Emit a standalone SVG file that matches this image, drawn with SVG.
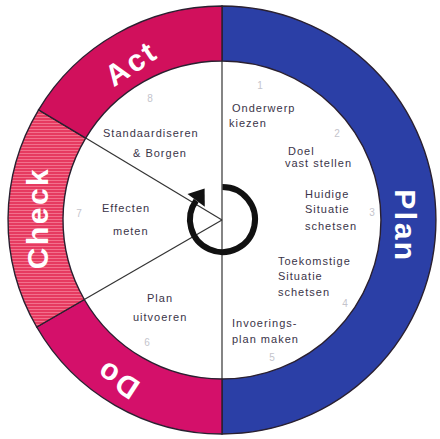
<svg xmlns="http://www.w3.org/2000/svg" width="440" height="439" viewBox="0 0 440 439">
<defs>
<pattern id="stripes" width="4" height="3" patternUnits="userSpaceOnUse">
<rect width="4" height="3" fill="#e63a60"/>
<rect width="4" height="1" fill="#f2708c"/>
</pattern>
<style>
.band{stroke:#2a2030;stroke-width:1.4}
.big{font-family:"Liberation Sans",Arial,sans-serif;font-weight:bold;font-size:30px;fill:#ffffff;text-anchor:middle;letter-spacing:2.5px}
.step{font-family:"Liberation Sans",Arial,sans-serif;font-size:11px;fill:#3a3448;letter-spacing:1px}
.num{font-family:"Liberation Sans",Arial,sans-serif;font-size:10px;fill:#c4c4cc;text-anchor:middle}
.div{stroke:#333;stroke-width:1.2;fill:none}
</style>
</defs>
<rect width="440" height="439" fill="#ffffff"/>
<g id="plan">
<path class="band" fill="#2b3fa6" d="M222,6 A214,214 0 0 1 222,434 L222,379 A159,159 0 0 0 222,61 Z"/>
<text class="big" transform="translate(395,226) rotate(90)">Plan</text>
</g>
<g id="do">
<path class="band" fill="#d4106a" d="M222,434 A214,214 0 0 1 36.7,327 L84.3,299.5 A159,159 0 0 0 222,379 Z"/>
<text class="big" transform="translate(123,371) rotate(213)">Do</text>
</g>
<g id="check">
<path class="band" fill="url(#stripes)" d="M36.7,327 A214,214 0 0 1 38.6,109.8 L85.7,138.1 A159,159 0 0 0 84.3,299.5 Z"/>
<text class="big" transform="translate(48,218) rotate(-90)">Check</text>
</g>
<g id="act">
<path class="band" fill="#d1105c" d="M38.6,109.8 A214,214 0 0 1 222,6 L222,61 A159,159 0 0 0 85.7,138.1 Z"/>
<text class="big" transform="translate(137,72) rotate(-34)">Act</text>
</g>
<g id="connectors">
<line class="div" x1="222" y1="61" x2="222" y2="379"/>
<line class="div" x1="85.7" y1="138.1" x2="222" y2="220"/>
<line class="div" x1="84.3" y1="299.5" x2="222" y2="220"/>
</g>
<g id="steps">
<text class="step" x="232" y="112">Onderwerp</text>
<text class="step" x="229" y="127">kiezen</text>
<text class="step" x="288" y="155">Doel</text>
<text class="step" x="285" y="167">vast stellen</text>
<text class="step" x="305" y="198">Huidige</text>
<text class="step" x="305" y="213">Situatie</text>
<text class="step" x="305" y="230">schetsen</text>
<text class="step" x="278" y="265">Toekomstige</text>
<text class="step" x="278" y="280">Situatie</text>
<text class="step" x="278" y="296">schetsen</text>
<text class="step" x="232" y="327">Invoerings-</text>
<text class="step" x="232" y="343">plan maken</text>
<text class="step" x="147" y="302">Plan</text>
<text class="step" x="133" y="321">uitvoeren</text>
<text class="step" x="102" y="212">Effecten</text>
<text class="step" x="113" y="235">meten</text>
<text class="step" x="103" y="137">Standaardiseren</text>
<text class="step" x="133" y="157">&amp; Borgen</text>
</g>
<g id="numbers">
<text class="num" x="260" y="89">1</text>
<text class="num" x="337" y="137">2</text>
<text class="num" x="372" y="216">3</text>
<text class="num" x="345" y="307">4</text>
<text class="num" x="272" y="361">5</text>
<text class="num" x="147" y="346">6</text>
<text class="num" x="79" y="217">7</text>
<text class="num" x="150" y="102">8</text>
</g>
<g id="cycle-arrow">
<path d="M222.5,187 A32.5,32.5 0 1 1 196.2,200.4" fill="none" stroke="#111" stroke-width="6"/>
<polygon points="187.5,194 204.8,206.8 204.6,188.5" fill="#111"/>
</g>
</svg>
